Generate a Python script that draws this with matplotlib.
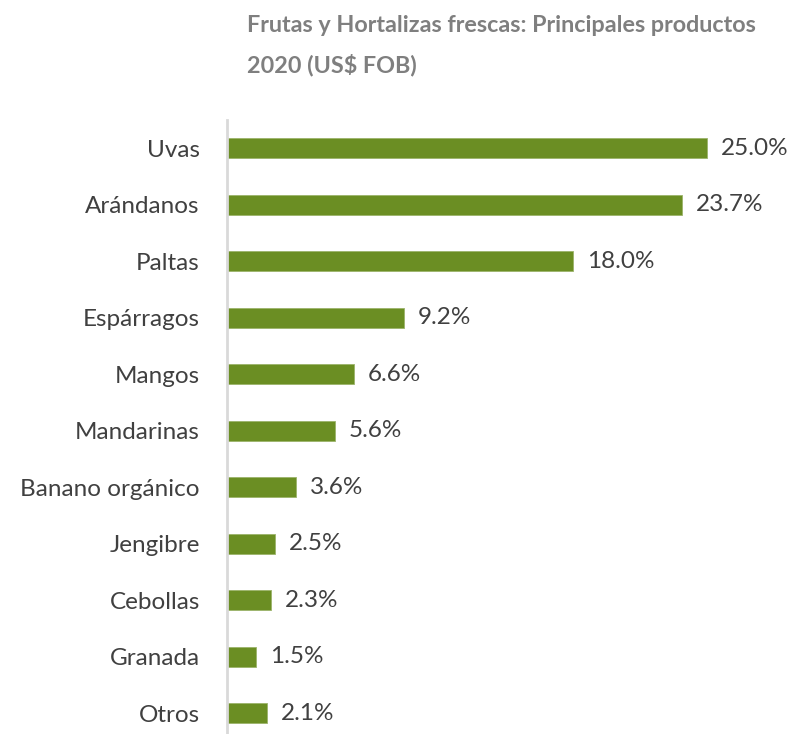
import matplotlib
matplotlib.use("Agg")
import matplotlib.pyplot as plt

categories = ["Uvas", "Arándanos", "Paltas", "Espárragos", "Mangos", "Mandarinas",
              "Banano orgánico", "Jengibre", "Cebollas", "Granada", "Otros"]
values = [25.0, 23.7, 18.0, 9.2, 6.6, 5.6, 3.6, 2.5, 2.3, 1.5, 2.1]
value_labels = ["25.0%", "23.7%", "18.0%", "9.2%", "6.6%", "5.6%", "3.6%", "2.5%", "2.3%", "1.5%", "2.1%"]

plt.rcParams['font.family'] = ['Lato', 'DejaVu Sans']

W, H = 791, 734
fig = plt.figure(figsize=(W/100, H/100), dpi=100)
left = 227 / W
axw = (W - 227) / W
top_px = 120
step = 56.5
axh_px = step * len(categories)
bottom_px = top_px + axh_px
ax = fig.add_axes([left, 1 - bottom_px / H, axw, axh_px / H])

px_per = 19.2
xmax = (W - 227) / px_per
ypos = list(range(len(categories)))
ax.barh(ypos, values, height=0.36, color="#6B8E23", edgecolor="#9BB36A", linewidth=0.6)
ax.set_ylim(len(categories) - 0.5, -0.5)
ax.set_xlim(0, xmax)
ax.set_yticks(ypos)
ax.set_yticklabels(categories, fontsize=17.5, color="#404040")
ax.tick_params(axis='y', length=0, pad=19.5)
ax.set_xticks([])
for s in ["top", "right", "bottom"]:
    ax.spines[s].set_visible(False)
ax.spines["left"].set_color("#D9D9D9")
ax.spines["left"].set_linewidth(2)

for y, v, lab in zip(ypos, values, value_labels):
    ax.annotate(lab, (v, y), xytext=(14, 0), textcoords="offset pixels",
                va="center", ha="left", fontsize=17.5, color="#404040")

fig.text(247 / W, 1 - 25 / H, "Frutas y Hortalizas frescas: Principales productos",
         fontsize=16.8, fontweight="bold", color="#7F7F7F", va="center", ha="left")
fig.text(247 / W, 1 - 65 / H, "2020 (US$ FOB)",
         fontsize=16.8, fontweight="bold", color="#7F7F7F", va="center", ha="left")

fig.savefig("out.png", dpi=100)
